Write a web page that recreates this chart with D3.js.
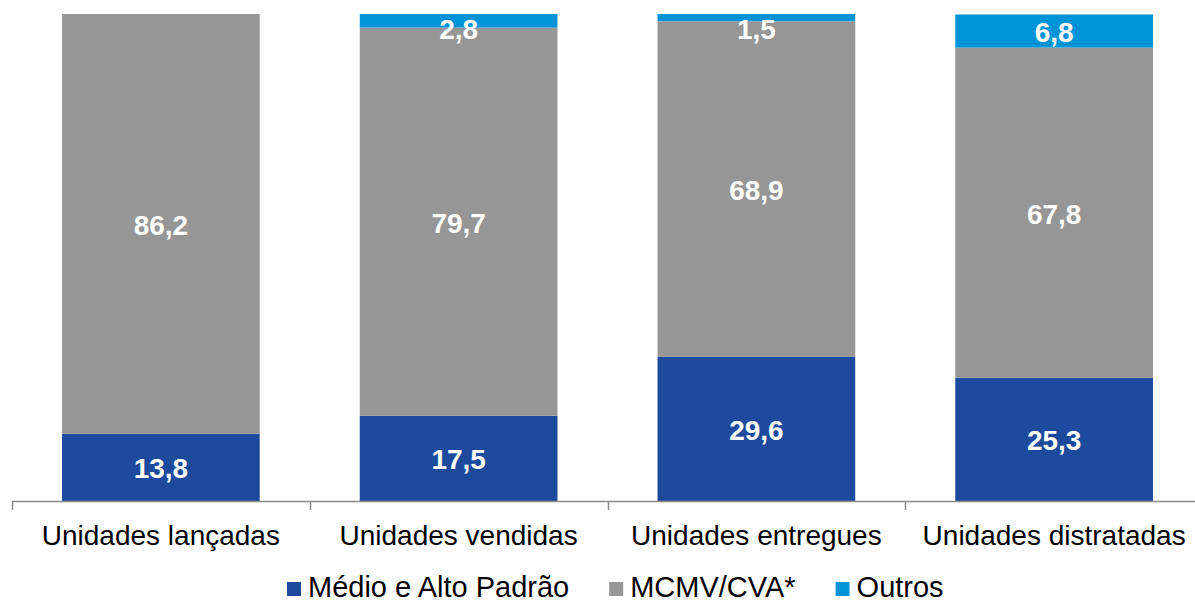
<!DOCTYPE html>
<html lang="pt">
<head>
<meta charset="UTF-8">
<title>Unidades por segmento</title>
<style>
  body { margin: 0; background: #fff; }
  svg { display: block; font-family: "Liberation Sans", Arial, sans-serif; }
</style>
</head>
<body>
<svg id="chart" width="1195" height="602"></svg>
<script src="https://d3js.org/d3.v7.min.js"></script>
<script>
// categories and series (percent shares)
const categories = ["Unidades lançadas", "Unidades vendidas", "Unidades entregues", "Unidades distratadas"];
const seriesNames = ["Médio e Alto Padrão", "MCMV/CVA*", "Outros"];
const medioAlto = [13.8, 17.5, 29.6, 25.3];
const mcmv = [86.2, 79.7, 68.9, 67.8];
const outros = [0, 2.8, 1.5, 6.8];
const colors = ["#1d4a9c", "#969696", "#0093d8"];

const svg = d3.select("#chart");
const plotTop = 14, plotBottom = 501, plotLeft = 12, plotRight = 1203;

const rows = categories.map((c, i) => ({ cat: c, s0: medioAlto[i], s1: mcmv[i], s2: outros[i] }));
const stack = d3.stack().keys(["s0", "s1", "s2"]);
const layers = stack(rows);

const x = d3.scaleBand().domain(categories).range([plotLeft, plotRight]).paddingInner(0.336).paddingOuter(0.168);
const y = d3.scaleLinear().domain([0, 100]).range([plotBottom, plotTop]);

// bars
const g = svg.append("g");
layers.forEach((layer, k) => {
  g.selectAll(null).data(layer).enter().append("rect")
    .attr("x", d => x(d.data.cat))
    .attr("width", x.bandwidth())
    .attr("y", d => y(d[1]))
    .attr("height", d => y(d[0]) - y(d[1]))
    .attr("fill", colors[k]);
});

// value labels
layers.forEach((layer, k) => {
  g.selectAll(null).data(layer.filter(d => d[1] - d[0] > 0)).enter().append("text")
    .attr("x", d => x(d.data.cat) + x.bandwidth() / 2)
    .attr("y", d => Math.max((y(d[0]) + y(d[1])) / 2, plotTop + 14) + 11)
    .attr("text-anchor", "middle")
    .attr("fill", "#fff")
    .attr("font-weight", "bold")
    .attr("font-size", 28)
    .text(d => d3.format(".1f")(d[1] - d[0]).replace(".", ","));
});

// x axis with ticks between categories
const step = x.step();
const axis = svg.append("g");
axis.append("line")
  .attr("x1", plotLeft).attr("x2", plotRight)
  .attr("y1", plotBottom + 0.5).attr("y2", plotBottom + 0.5)
  .attr("stroke", "#8c8c8c").attr("stroke-width", 1.5);
d3.range(categories.length + 1).forEach(i => {
  const tx = Math.round(plotLeft + i * step) + 0.5;
  axis.append("line")
    .attr("x1", tx).attr("x2", tx)
    .attr("y1", plotBottom).attr("y2", plotBottom + 9)
    .attr("stroke", "#8c8c8c").attr("stroke-width", 1.5);
});
axis.selectAll(null).data(categories).enter().append("text")
  .attr("x", d => x(d) + x.bandwidth() / 2)
  .attr("y", 545)
  .attr("text-anchor", "middle")
  .attr("font-size", 28)
  .attr("fill", "#000")
  .text(d => d);

// legend
const legend = svg.append("g");
let lx = 287;
seriesNames.forEach((name, i) => {
  legend.append("rect")
    .attr("x", lx).attr("y", 582)
    .attr("width", 14).attr("height", 14)
    .attr("fill", colors[i]);
  const t = legend.append("text")
    .attr("x", lx + 21).attr("y", 597)
    .attr("font-size", 29)
    .attr("fill", "#000")
    .text(name);
  lx += 21 + t.node().getComputedTextLength() + 40;
});
</script>
</body>
</html>
